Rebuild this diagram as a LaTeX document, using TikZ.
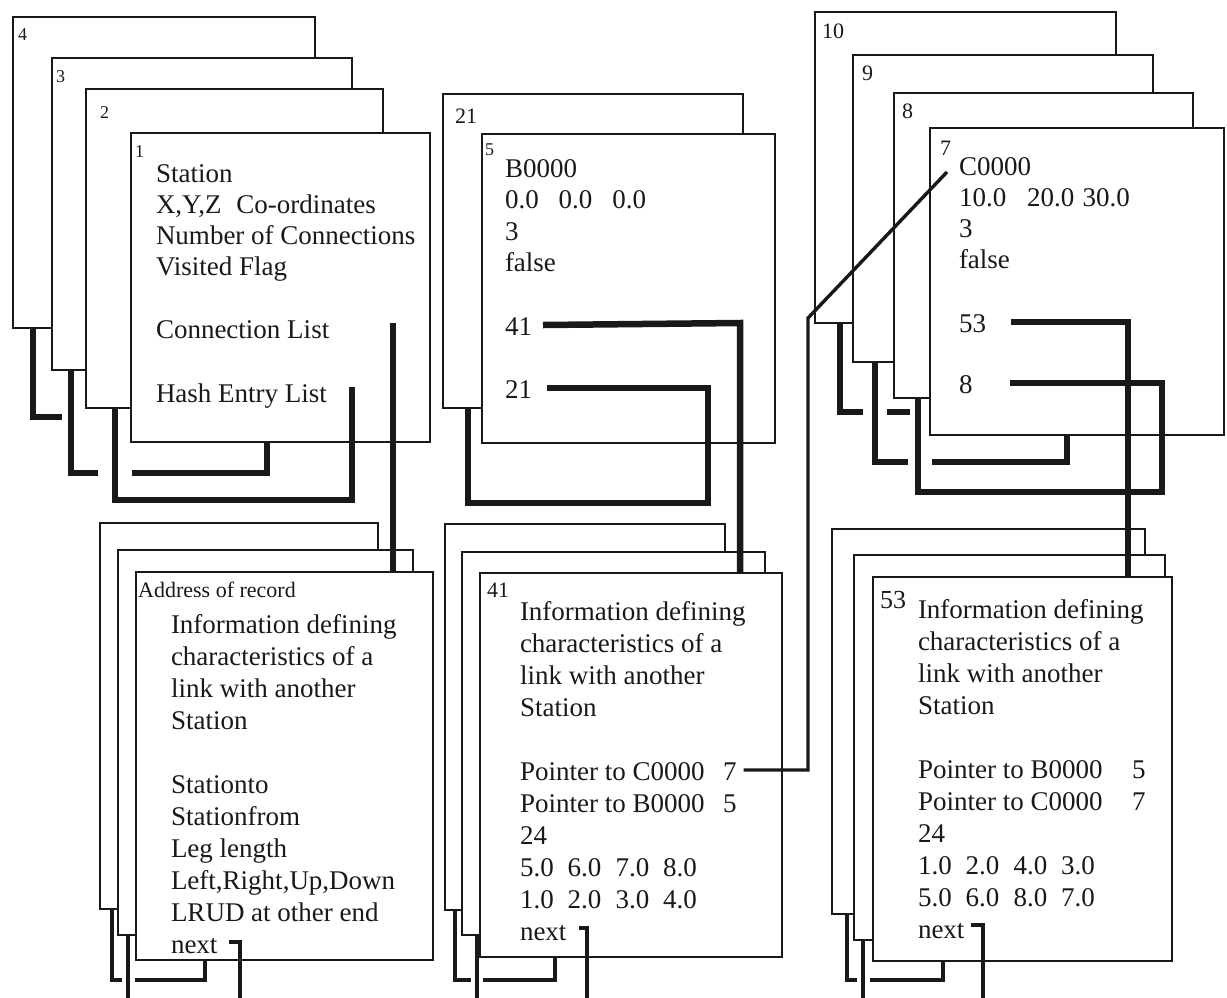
\documentclass[tikz,border=0pt]{standalone}
\usepackage{fontspec}
\setmainfont{Liberation Serif}
\usetikzlibrary{fit}
\definecolor{ink}{RGB}{25,25,25}
\tikzset{
 recbox/.style={draw=ink, line width=1.8pt, fill=white, inner sep=0pt, outer sep=0pt},
 thk/.style={draw=ink, line width=6.5pt},
 med/.style={draw=ink, line width=3.8pt},
 thn/.style={draw=ink, line width=3.4pt},
 txt/.style={font=\fontsize{27}{32}\selectfont, inner sep=0pt, outer sep=0pt, anchor=base west, text=ink},
 labs/.style={font=\fontsize{18}{20}\selectfont, inner sep=0pt, anchor=base west, text=ink},
 labm/.style={font=\fontsize{22}{24}\selectfont, inner sep=0pt, anchor=base west, text=ink},
 labl/.style={font=\fontsize{26}{28}\selectfont, inner sep=0pt, anchor=base west, text=ink},
}
\newcommand\txtlines[5]{\foreach \t [count=\i from 0] in {#5}{\node[txt] (#1\i) at (#2,#3+#4*\i) {\t};}}
\newcommand\gp{\hspace{14pt}}
\begin{document}
\begin{tikzpicture}[x=1pt,y=-1pt]
\useasboundingbox (0,0) rectangle (1227,997);
\fill[white] (0,0) rectangle (1227,997);

% ---- station records, left stack
\node[recbox, fit={(13,17)(315,328)}] (b4) {};
\node[recbox, fit={(52,58)(352,370)}] (b3) {};
\node[recbox, fit={(86,89)(383,408)}] (b2) {};
\node[recbox, fit={(131,133)(430,442)}] (b1) {};
% ---- middle stack
\node[recbox, fit={(443,94)(743,408)}] (b21) {};
\node[recbox, fit={(482,134)(775,443)}] (b5) {};
% ---- right stack
\node[recbox, fit={(815,12)(1116,323)}] (b10) {};
\node[recbox, fit={(853,55)(1153,362)}] (b9) {};
\node[recbox, fit={(894,93)(1193,398)}] (b8) {};
\node[recbox, fit={(930,128)(1224,435)}] (b7) {};
% ---- link records
\node[recbox, fit={(100,523)(378,909)}] (a3) {};
\node[recbox, fit={(118,550)(413,935)}] (a2) {};
\node[recbox, fit={(136,572)(433,960)}] (a1) {};
\node[recbox, fit={(445,524)(725,910)}] (l41c) {};
\node[recbox, fit={(462,552)(765,935)}] (l41b) {};
\node[recbox, fit={(480,573)(782,957)}] (l41a) {};
\node[recbox, fit={(832,529)(1145,914)}] (l53c) {};
\node[recbox, fit={(854,555)(1165,940)}] (l53b) {};
\node[recbox, fit={(873,577)(1172,961)}] (l53a) {};

% ---- labels
\node[labs] (n4) at (18,40) {4};
\node[labs] (n3) at (56,82) {3};
\node[labs] (n2) at (100,118) {2};
\node[labs] (n1) at (135,157) {1};
\node[labm] (n21) at (455,123) {21};
\node[labs] (n5) at (485,155) {5};
\node[labm] (n10) at (822,38) {10};
\node[labm] (n9) at (862,80) {9};
\node[labm] (n8) at (902,118) {8};
\node[labm] (n7) at (940,155) {7};
\node[labm] (n41) at (487,597) {41};
\node[labl] (n53) at (880,608) {53};
\node[labm] (addr) at (138,597) {Address of record};

% ---- texts
\txtlines{s1t}{156}{182}{31}{Station, {X,Y,Z\hspace{15pt}Co-ordinates}, Number of Connections, Visited Flag}
\node[txt] (conn) at (156,338) {Connection List};
\node[txt] (hash) at (156,402) {Hash Entry List};
\txtlines{s5t}{505}{177}{31.5}{B0000, 0.0\hspace{20pt}0.0\hspace{20pt}0.0, 3, false}
\node[txt] (p41) at (505,335) {41};
\node[txt] (p21) at (505,398) {21};
\txtlines{s7t}{959}{175}{31}{C0000, 10.0\hspace{21pt}20.0\hspace{8pt}30.0, 3, false}
\node[txt] (p53) at (959,332) {53};
\node[txt] (p8) at (959,393) {8};

\txtlines{a1t}{171}{633}{32}{Information defining, characteristics of a, link with another, Station}
\txtlines{a1u}{171}{793}{32}{Stationto, Stationfrom, Leg length, {Left,Right,Up,Down}, LRUD at other end, next}

\txtlines{b41t}{520}{620}{32}{Information defining, characteristics of a, link with another, Station}
\txtlines{b41u}{520}{780}{32}{Pointer to C0000, Pointer to B0000, 24, 5.0\gp6.0\gp7.0\gp8.0, 1.0\gp2.0\gp3.0\gp4.0, next}
\node[txt] (b41p7) at (723,780) {7};
\node[txt] (b41p5) at (723,812) {5};

\txtlines{c53t}{918}{618}{32}{Information defining, characteristics of a, link with another, Station}
\txtlines{c53u}{918}{778}{32}{Pointer to B0000, Pointer to C0000, 24, 1.0\gp2.0\gp4.0\gp3.0, 5.0\gp6.0\gp8.0\gp7.0, next}
\node[txt] (c53p5) at (1132,778) {5};
\node[txt] (c53p7) at (1132,810) {7};

% ---- connectors, left stack
\draw[thk] (33,0 |- b4.south) -- (33,417) -- (62,417);
\draw[thk] (71,0 |- b3.south) -- (71,473) -- (98,473) (132,473) -- (267,473) -- (267,0 |- b1.south);
\coordinate (hashptr) at (352,387);
\draw[thk] (hashptr) -- (352,500) -- (115,500) -- (115,0 |- b2.south);
\coordinate (connptr) at (393,323);
\draw[thk] (connptr) -- (393,0 |- a1.north);
% ---- middle
\draw[thk] ([xshift=11pt,yshift=10pt]p41.base east) -- (740,323) -- (740,0 |- l41a.north);
\draw[thk] ([xshift=15pt,yshift=10pt]p21.base east) -- (708,388) -- (708,503) -- (468,503) -- (468,0 |- b21.south);
% ---- right
\draw[thk] (840,0 |- b10.south) -- (840,412) -- (863,412) (887,412) -- (910,412);
\draw[thk] (875,0 |- b9.south) -- (875,462) -- (908,462) (932,462) -- (1067,462) -- (1067,0 |- b7.south);
\draw[thk] ([xshift=37pt,yshift=10pt]p8.base east) -- (1162,383) -- (1162,492) -- (918,492) -- (918,0 |- b8.south);
\draw[thk] ([xshift=25pt,yshift=10pt]p53.base east) -- (1128,322) -- (1128,0 |- l53a.north);
\coordinate (c7tip) at (947,172);
\draw[thn] ([xshift=7pt,yshift=10pt]b41p7.base east) -- (808,770) -- (808,318) -- (c7tip);
% ---- next pointers
\draw[med] (112,0 |- a3.south) -- (112,980) -- (122,980) (135,980) -- (205,980) -- (205,0 |- a1.south);
\draw[med] (128,0 |- a2.south) -- (128,1000);
\draw[med] ([xshift=12pt,yshift=11pt]a1u5.base east) -- (240,942) -- (240,1000);
\draw[med] (455,0 |- l41c.south) -- (455,980) -- (471,980) (483,980) -- (555,980) -- (555,0 |- l41a.south);
\draw[med] (477,0 |- l41b.south) -- (477,1000);
\draw[med] ([xshift=13pt,yshift=12pt]b41u5.base east) -- (587,928) -- (587,1000);
\draw[med] (847,0 |- l53c.south) -- (847,980) -- (857,980) (870,980) -- (943,980) -- (943,0 |- l53a.south);
\draw[med] (863,0 |- l53b.south) -- (863,1000);
\draw[med] ([xshift=7pt,yshift=13pt]c53u5.base east) -- (983,925) -- (983,1000);
\end{tikzpicture}
\end{document}
